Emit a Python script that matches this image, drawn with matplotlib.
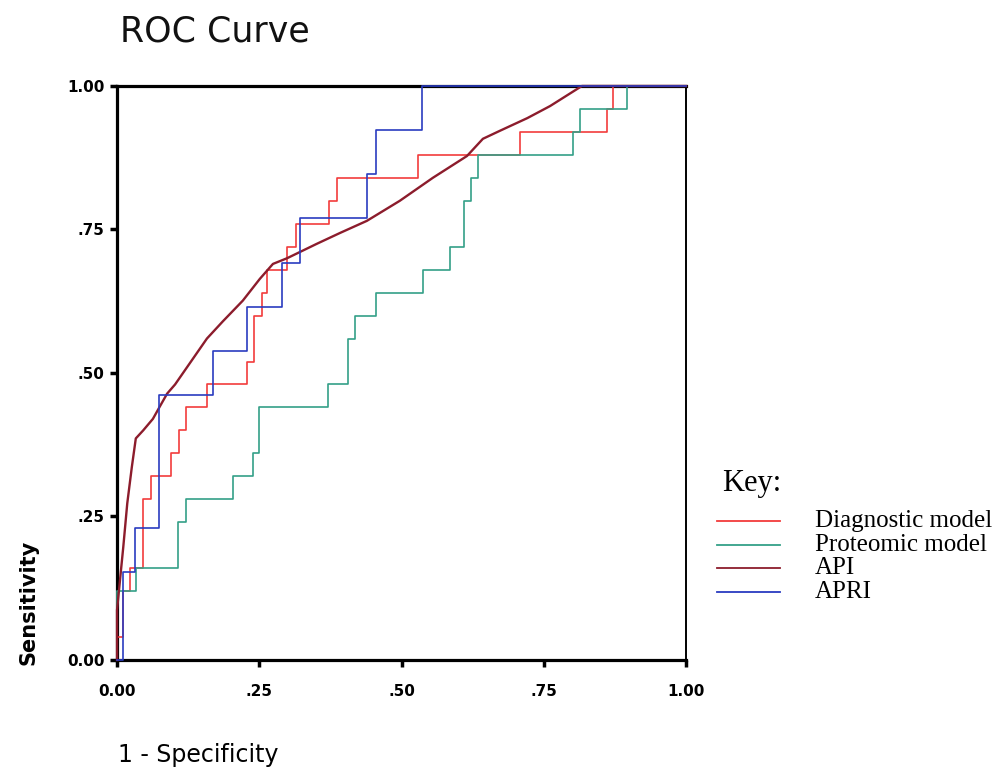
import numpy as np
import matplotlib.pyplot as plt
from matplotlib.lines import Line2D

# ROC corners for each test (1 - specificity, sensitivity)
diag_fpr = [0, 0, 0.011, 0.023, 0.046, 0.060, 0.095, 0.109, 0.121, 0.158, 0.228, 0.241,
            0.255, 0.264, 0.299, 0.315, 0.373, 0.387, 0.529, 0.708, 0.861, 0.872, 1.0]
diag_tpr = [0, 0.04, 0.12, 0.16, 0.28, 0.32, 0.36, 0.40, 0.44, 0.48, 0.52, 0.60,
            0.64, 0.68, 0.72, 0.76, 0.80, 0.84, 0.88, 0.92, 0.96, 1.0, 1.0]

prot_fpr = [0, 0, 0.033, 0.107, 0.121, 0.204, 0.239, 0.250, 0.371, 0.406, 0.418,
            0.455, 0.538, 0.585, 0.610, 0.622, 0.634, 0.801, 0.814, 0.896, 1.0]
prot_tpr = [0, 0.12, 0.16, 0.24, 0.28, 0.32, 0.36, 0.44, 0.48, 0.56, 0.60,
            0.64, 0.68, 0.72, 0.80, 0.84, 0.88, 0.92, 0.96, 1.0, 1.0]

api_fpr = [0, 0, 0.011, 0.018, 0.026, 0.033, 0.046, 0.063, 0.076, 0.088, 0.102,
           0.123, 0.158, 0.186, 0.221, 0.251, 0.274, 0.299, 0.351, 0.392, 0.439,
           0.497, 0.555, 0.615, 0.643, 0.673, 0.721, 0.761, 0.817, 1.0]
api_tpr = [0, 0.087, 0.197, 0.273, 0.336, 0.386, 0.40, 0.42, 0.443, 0.464, 0.48,
           0.51, 0.56, 0.59, 0.626, 0.664, 0.69, 0.70, 0.725, 0.744, 0.765,
           0.80, 0.84, 0.878, 0.908, 0.922, 0.944, 0.965, 1.0, 1.0]

apri_fpr = [0, 0.011, 0.032, 0.074, 0.169, 0.228, 0.290, 0.322, 0.439, 0.455, 0.536, 1.0]
apri_tpr = [0, 2/13, 3/13, 6/13, 7/13, 8/13, 9/13, 10/13, 11/13, 12/13, 1.0, 1.0]

labels = ["Diagnostic model", "Proteomic model", "API", "APRI"]
colors = ["#f23c3c", "#34a088", "#8c1c2c", "#2a3cc0"]
ticks = [0, 0.25, 0.5, 0.75, 1.0]
ticklabels = ["0.00", ".25", ".50", ".75", "1.00"]

fig = plt.figure(figsize=(10.08, 7.76), dpi=100)
ax = fig.add_axes([0.1161, 0.1495, 0.5645, 0.7397])

ax.plot(diag_fpr, diag_tpr, drawstyle="steps-post", color=colors[0], lw=1.2, zorder=3, clip_on=False)
ax.plot(prot_fpr, prot_tpr, drawstyle="steps-post", color=colors[1], lw=1.2, zorder=3, clip_on=False)
ax.plot(api_fpr, api_tpr, color=colors[2], lw=1.7, zorder=3, clip_on=False)
ax.plot(apri_fpr, apri_tpr, drawstyle="steps-post", color=colors[3], lw=1.2, zorder=3, clip_on=False)

ax.set_xlim(0, 1)
ax.set_ylim(0, 1)
for side in ["left", "bottom", "top"]:
    ax.spines[side].set_linewidth(2.3)
ax.spines["right"].set_linewidth(1.4)

ax.set_xticks(ticks)
ax.set_yticks(ticks)
ax.set_xticklabels(ticklabels, fontweight="bold", fontsize=11)
ax.set_yticklabels(ticklabels, fontweight="bold", fontsize=11)
ax.tick_params(direction="out", length=5, width=2.5)
ax.tick_params(axis="x", pad=12)
ax.tick_params(axis="y", pad=4)

fig.text(120/1008, 1 - 32/776, "ROC Curve", fontsize=25, va="center", ha="left", color="#111111")
fig.text(28/1008, 1 - 665/776, "Sensitivity", fontsize=15, rotation=90, va="bottom", ha="center",
         fontweight="bold")
fig.text(118/1008, 1 - 755/776, "1 - Specificity", fontsize=17, va="center", ha="left")

# key on the right
fig.text(722/1008, 1 - 483/776, "Key:", fontsize=22, family="Liberation Serif", va="center", ha="left")
key_y = [521, 545, 568, 592]
for lab, col, yy in zip(labels, colors, key_y):
    fy = 1 - yy/776
    fig.add_artist(Line2D([717/1008, 780/1008], [fy, fy], color=col, lw=1.3))
    fig.text(815/1008, fy, lab, fontsize=18, family="Liberation Serif", va="center", ha="left")

fig.savefig("out.png", dpi=100)
